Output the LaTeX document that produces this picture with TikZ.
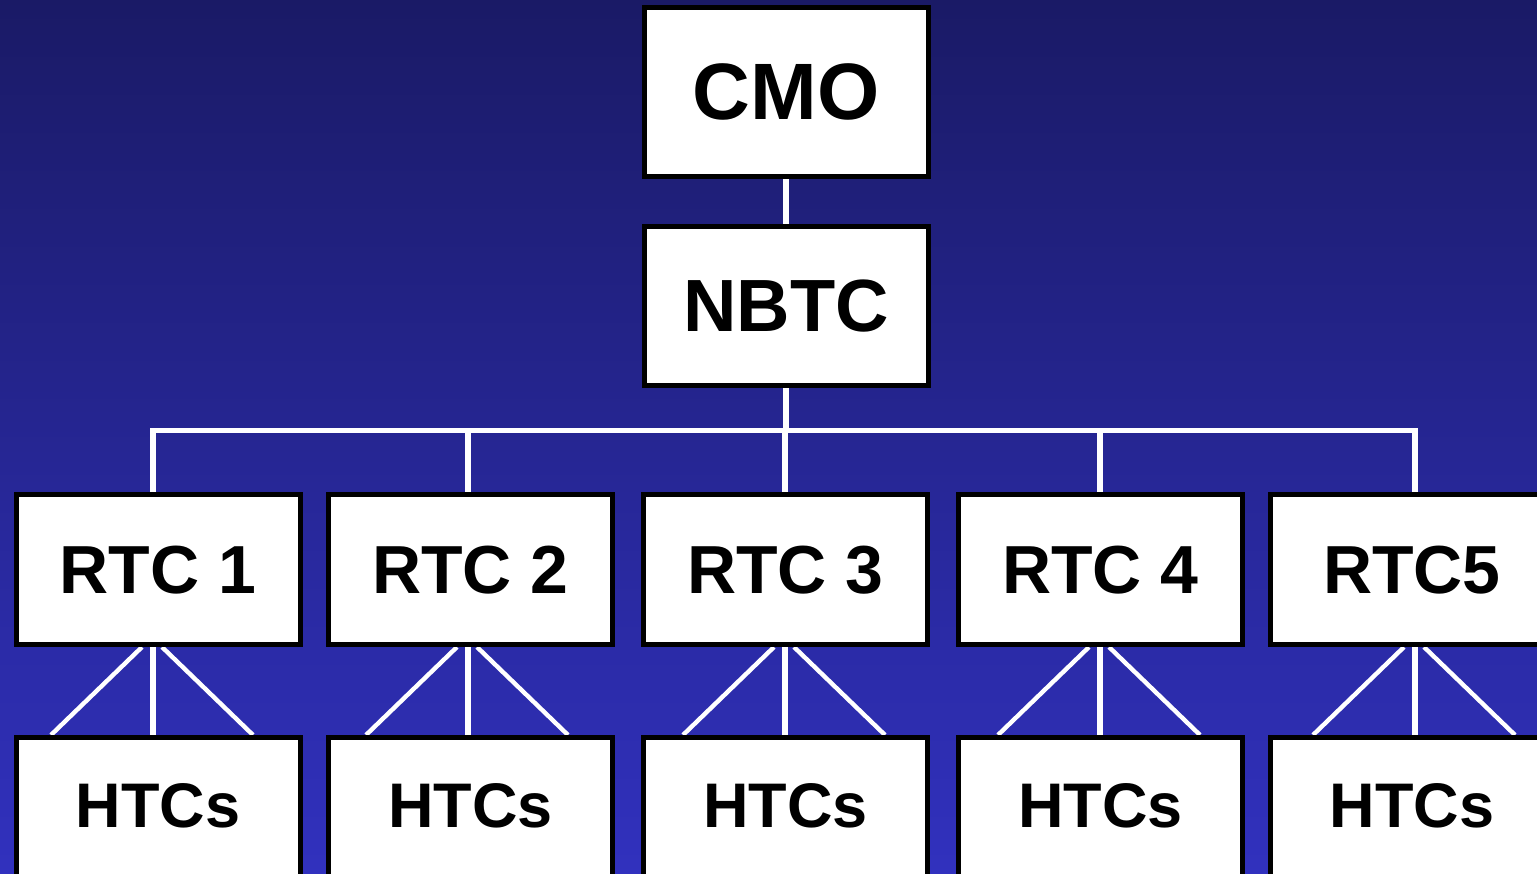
\documentclass[tikz,border=0pt]{standalone}
\usepackage{fontspec}
\setmainfont{Liberation Sans}
\usetikzlibrary{calc}
\pgfdeclarelayer{bg}
\pgfdeclarelayer{lines}
\pgfsetlayers{bg,lines,main}
\definecolor{bgtop}{RGB}{26,26,102}
\definecolor{bgbot}{RGB}{49,49,190}
\tikzset{
  orgbox/.style={draw=black, fill=white, line width=2.5pt, inner sep=0pt, minimum width=142pt},
  cmostyle/.style={orgbox, minimum height=84.5pt, font=\fontsize{40}{40}\selectfont\bfseries, text height=28.6pt, text depth=1.5pt},
  nbtcstyle/.style={orgbox, minimum height=79.5pt, font=\fontsize{37}{37}\selectfont\bfseries, text height=26.5pt, text depth=1pt},
  rtcstyle/.style={orgbox, minimum height=75pt, font=\fontsize{34}{34}\selectfont\bfseries, text height=24.3pt, text depth=0.5pt},
  htcstyle/.style={orgbox, minimum height=80pt, font=\fontsize{31.5}{31.5}\selectfont\bfseries, text height=22.6pt, text depth=12.5pt},
  link/.style={draw=white, line width=2.8pt},
  diag/.style={draw=white, line width=2.2pt},
}
\begin{document}
\begin{tikzpicture}[x=0.5pt, y=-0.5pt]
\useasboundingbox (0,0) rectangle (1537,873);
\clip (0,0) rectangle (1537,873);
\begin{pgfonlayer}{bg}
  \shade[top color=bgtop, bottom color=bgbot] (0,0) rectangle (1537,873);
\end{pgfonlayer}

\node[cmostyle] (cmo) at (786,92) {CMO};
\node[nbtcstyle] (nbtc) at (786,306) {NBTC};

\node[rtcstyle] (r1) at (158,569.5) {RTC 1};
\node[rtcstyle] (r2) at (470.5,569.5) {RTC 2};
\node[rtcstyle] (r3) at (785.5,569.5) {RTC 3};
\node[rtcstyle] (r4) at (1100.5,569.5) {RTC 4};
\node[rtcstyle] (r5) at (1412,569.5) {RTC5};

\node[htcstyle] (h1) at (158,817.5) {HTCs};
\node[htcstyle] (h2) at (470.5,817.5) {HTCs};
\node[htcstyle] (h3) at (785.5,817.5) {HTCs};
\node[htcstyle] (h4) at (1100.5,817.5) {HTCs};
\node[htcstyle] (h5) at (1412,817.5) {HTCs};

\coordinate (t1) at (153,430.5);
\coordinate (t2) at (468,430.5);
\coordinate (t3) at (785,430.5);
\coordinate (t4) at (1100,430.5);
\coordinate (t5) at (1415,430.5);

\begin{pgfonlayer}{lines}
  \draw[link] (cmo.south) -- (nbtc.north);
  \draw[link] (nbtc.south) -- (nbtc.south |- t3);
  \draw[link, line cap=rect] (t1) -- (t5);
  \foreach \i in {1,...,5} {
    \draw[link] (t\i) -- (t\i |- r\i.north);
    \draw[link] (t\i |- r\i.south) -- (t\i |- h\i.north);
    \draw[diag] ($(t\i |- r\i.south)+(-11,0)$) -- ($(t\i |- h\i.north)+(-102,0)$);
    \draw[diag] ($(t\i |- r\i.south)+(9,0)$) -- ($(t\i |- h\i.north)+(100,0)$);
  }
\end{pgfonlayer}
\end{tikzpicture}
\end{document}
